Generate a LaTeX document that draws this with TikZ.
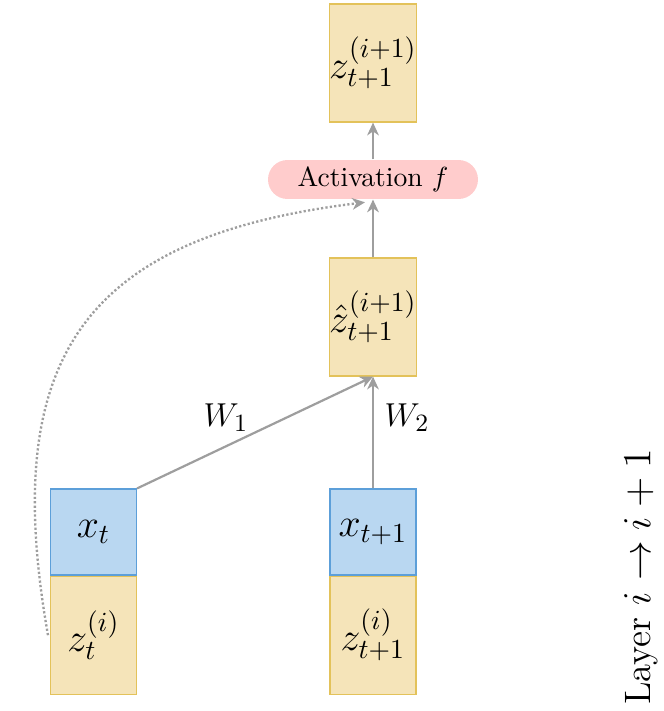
\documentclass[tikz,border=0pt]{standalone}
\usetikzlibrary{arrows.meta}
\definecolor{yfill}{HTML}{F5E4B9}
\definecolor{ydraw}{HTML}{E3C25A}
\definecolor{bfill}{HTML}{B9D7F1}
\definecolor{bdraw}{HTML}{5C9FD9}
\definecolor{pfill}{HTML}{FFCCCC}
\definecolor{agray}{HTML}{9E9E9E}
\begin{document}
\begin{tikzpicture}[x=0.362pt,y=-0.362pt,
  ybox/.style={draw=ydraw,fill=yfill,line width=0.45pt,minimum width=31.1pt,minimum height=42.7pt,inner sep=0pt,font=\Large},
  bbox/.style={draw=bdraw,fill=bfill,line width=0.45pt,minimum width=31.1pt,minimum height=31.1pt,inner sep=0pt,font=\Large},
  actbox/.style={fill=pfill,rounded corners=7pt,minimum width=76pt,minimum height=14.1pt,inner sep=0pt},
  conn/.style={draw=agray,line width=0.8pt,-{Stealth[length=4.6pt,width=4.2pt,inset=1.4pt]}},
  wlab/.style={font=\fontsize{13}{15}\selectfont}]
\useasboundingbox (0,0) rectangle (663,711);
\node[ybox] (top) at (373,63) {$z_{t+1}^{(i+1)}$};
\node[actbox] (act) at (373,179.5) {Activation $f$};
\node[ybox] (hat) at (373,317) {$\hat{z}_{t+1}^{(i+1)}$};
\node[bbox] (xt) at (93.5,532) {$x_t$};
\node[ybox,anchor=north] (zt) at (xt.south) {$z_t^{(i)}$};
\node[bbox] (xt1) at (373,532) {$x_{t+1}$};
\node[ybox,anchor=north] (zt1) at (xt1.south) {$z_{t+1}^{(i)}$};
\node[wlab] (w1) at (226,418) {$W_1$};
\node[wlab] (w2) at (407,418) {$W_2$};
\node[rotate=90,font=\fontsize{13.3}{16}\selectfont] (layer) at (641,577) {Layer $i\rightarrow i+1$};
\coordinate (dotend) at ([xshift=-2.9pt,yshift=-1pt]act.south);
\draw[conn] (xt.north east) -- (hat.south);
\draw[conn] (xt1.north) -- (hat.south);
\draw[conn] (hat.north) -- (act.south);
\draw[conn] (act.north) -- (top.south);
\draw[conn,line width=0.85pt,dash pattern=on 0.8pt off 0.8pt] ([xshift=-0.7pt]zt.west) to[out=100,in=187,looseness=1.35] (dotend);
\end{tikzpicture}
\end{document}
